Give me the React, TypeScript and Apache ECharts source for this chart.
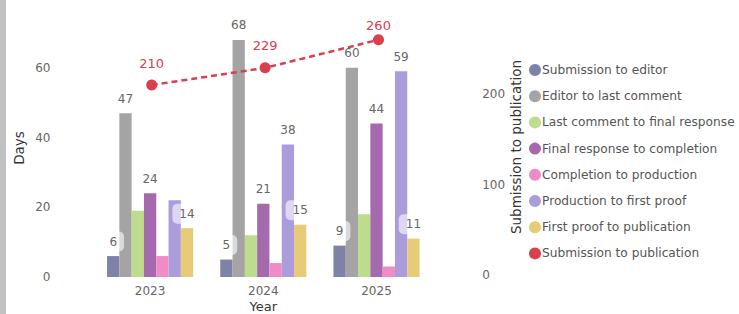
import React, { useEffect, useRef } from "react";
import * as echarts from "echarts";

const years = ["2023", "2024", "2025"];
const stageNames = [
  "Submission to editor",
  "Editor to last comment",
  "Last comment to final response",
  "Final response to completion",
  "Completion to production",
  "Production to first proof",
  "First proof to publication",
];
const submissionToEditor = [6, 5, 9];
const editorToLastComment = [47, 68, 60];
const lastCommentToFinal = [19, 12, 18];
const finalToCompletion = [24, 21, 44];
const completionToProduction = [6, 4, 3];
const productionToFirstProof = [22, 38, 59];
const firstProofToPublication = [14, 15, 11];
const submissionToPublication = [210, 229, 260];

const stageValues = [
  submissionToEditor,
  editorToLastComment,
  lastCommentToFinal,
  finalToCompletion,
  completionToProduction,
  productionToFirstProof,
  firstProofToPublication,
];
const stageColors = ["#7e82a6", "#a4a4a4", "#bddc8d", "#a56aae", "#ef8cc8", "#ab9cdb", "#e8cb79"];
// which stages show value labels; and indices of hidden labels
const labelShown = [true, true, false, true, false, true, true];
const hiddenLabelIdx: Record<number, number[]> = { 5: [0] };

const FONT = "DejaVu Sans";
const H = 314;
const RIGHT_MAX = 283;
const GRID2 = { top: 19, bottom: 39 };

export default function App() {
  const ref = useRef<HTMLDivElement>(null);
  useEffect(() => {
    if (!ref.current) return;
    const chart = echarts.init(ref.current, undefined, { renderer: "svg" });
    const barSeries = stageNames.map((name, i) => ({
      name,
      type: "bar",
      xAxisIndex: 0,
      yAxisIndex: 0,
      barWidth: 12.3,
      barGap: "0%",
      itemStyle: { color: stageColors[i] },
      data: stageValues[i].map((v, j) => ({
        value: v,
        label: { show: labelShown[i] && !(hiddenLabelIdx[i] || []).includes(j) },
      })),
      label: {
        position: "top",
        distance: 4.5,
        color: "#666",
        fontFamily: FONT,
        fontSize: 12,
        backgroundColor: "rgba(255,255,255,0.6)",
        borderRadius: 5,
        padding: [4, 7],
      },
    }));
    // labels of the line are pushed down when they would leave the plot area
    const pxPerUnit = (H - GRID2.top - GRID2.bottom) / RIGHT_MAX;
    const lineData = submissionToPublication.map((v) => ({
      value: v,
      label: { distance: (RIGHT_MAX - v) * pxPerUnit < 30 ? 2 : 10 },
    }));
    chart.setOption({
      animation: false,
      textStyle: { fontFamily: FONT },
      grid: [
        { left: 93.5, width: 339.6, top: 19, bottom: 37, outerBoundsMode: "none", containLabel: false },
        { left: 95, width: 340.2, top: GRID2.top, bottom: GRID2.bottom, outerBoundsMode: "none", containLabel: false },
      ],
      legend: {
        orient: "vertical",
        left: 529,
        top: 64,
        padding: 0,
        itemWidth: 12,
        itemHeight: 12,
        itemGap: 14.2,
        icon: "circle",
        textStyle: { color: "#555", fontSize: 12.2, fontFamily: FONT, padding: [0, 0, 0, -4] },
        data: [...stageNames, "Submission to publication"],
      },
      xAxis: [
        {
          type: "category",
          gridIndex: 0,
          data: years,
          axisLine: { show: false },
          axisTick: { show: false },
          axisLabel: { color: "#666", fontSize: 12, margin: 8 },
          name: "Year",
          nameLocation: "middle",
          nameGap: 22,
          nameMoveOverlap: false,
          nameTextStyle: { color: "#333", fontSize: 13, lineHeight: 14 },
        },
        {
          type: "category",
          gridIndex: 1,
          data: years,
          show: false,
        },
      ],
      yAxis: [
        {
          type: "value",
          gridIndex: 0,
          min: 0,
          max: 74,
          interval: 20,
          splitLine: { show: false },
          axisLine: { show: false },
          axisTick: { show: false },
          axisLabel: { color: "#666", fontSize: 12, margin: 43, showMaxLabel: false },
          name: "Days",
          nameLocation: "middle",
          nameGap: 68,
          nameMoveOverlap: false,
          nameTextStyle: { color: "#333", fontSize: 13.5 },
        },
        {
          type: "value",
          gridIndex: 1,
          position: "right",
          min: 0,
          max: RIGHT_MAX,
          interval: 100,
          splitLine: { show: false },
          axisLine: { show: false },
          axisTick: { show: false },
          axisLabel: { color: "#666", fontSize: 12, margin: 47, showMaxLabel: false },
          name: "Submission to publication",
          nameLocation: "middle",
          nameGap: 74,
          nameMoveOverlap: false,
          nameTextStyle: { color: "#333", fontSize: 13.5 },
        },
      ],
      series: [
        ...barSeries,
        {
          name: "Submission to publication",
          type: "line",
          xAxisIndex: 1,
          yAxisIndex: 1,
          z: 10,
          data: lineData,
          symbol: "circle",
          symbolSize: 11,
          itemStyle: { color: "#d9404e" },
          lineStyle: { color: "#d9404e", width: 2.5, type: [6, 4] },
          label: {
            show: true,
            position: "top",
            distance: 10,
            color: "#d9404e",
            fontSize: 13,
            fontFamily: FONT,
          },
        },
      ],
    });
    return () => chart.dispose();
  }, []);
  return (
    <div style={{ position: "fixed", left: 0, top: 0, width: 739, height: H, background: "#fff" }}>
      <div style={{ position: "absolute", left: 0, top: 0, width: 6, height: H, background: "#c2c2c2" }} />
      <div ref={ref} style={{ position: "absolute", left: 0, top: 0, width: 739, height: H }} />
    </div>
  );
}
